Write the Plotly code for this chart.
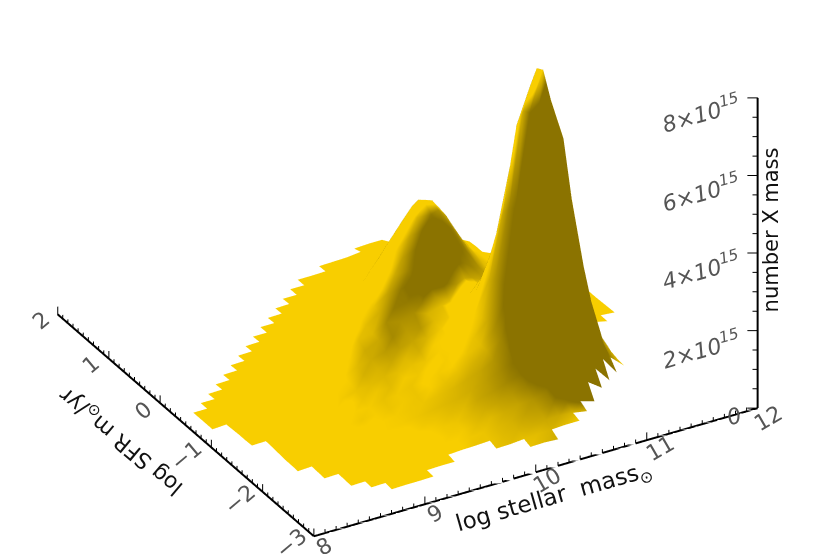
import plotly.graph_objects as go

# mass grid: 8.0 ... 12.0 in steps of 1/8, sfr rows -2.625 ... 1.625
mass_vals = [8 + i * 0.125 for i in range(33)]
sfr_vals = [-2.625 + j * 0.125 for j in range(35)]

# first mass column of every sfr row (everything left of it is empty)
row_start = [7, 6, 5, 5, 4, 4, 3, 3, 3, 3, 3, 2, 2, 2, 2, 1, 1, 1, 1, 2, 3, 4, 5, 6, 7, 8, 9, 10, 11, 12, 13, 14, 15, 17, 20]

# surface height, in units of 1e13
z_rows = [
    [6, 7, 7, 8, None, None, None, None, None, None, 12, 13, 11],
    [7, 8, 9, 9, 10, 11, 11, None, None, 14, 15, 18, 21, 22, 24, 24],
    [7, 8, 10, 10, 12, 12, 14, 15, 17, 18, 20, 23, 26, 29, 32, 33, 30, 24],
    [8, 9, 11, 12, 14, 16, 17, 20, 21, 25, 26, 32, 35, 42, 44, 48, 42, 35, 25],
    [8, 9, 10, 12, 15, 16, 19, 21, 25, 26, 31, 32, 40, 44, 54, 56, 66, 70, 74, 60, 35],
    [9, 10, 11, 14, 16, 20, 21, 26, 28, 33, 35, 42, 47, 56, 64, 73, 83, 101, 118, 118, 70, 30],
    [8, 10, 11, 13, 16, 19, 22, 25, 29, 34, 38, 43, 48, 59, 67, 80, 90, 111, 142, 184, 196, 140, 70, 25],
    [9, 12, 13, 16, 19, 23, 27, 30, 34, 40, 45, 51, 56, 69, 80, 96, 109, 142, 202, 278, 306, 245, 130, 50, 18],
    [9, 13, 15, 18, 22, 26, 30, 35, 39, 46, 52, 59, 65, 78, 90, 109, 127, 175, 271, 391, 446, 356, 200, 70, 20],
    [11, 15, 17, 21, 26, 31, 36, 40, 44, 52, 57, 65, 71, 86, 99, 121, 140, 210, 347, 526, 599, 478, 265, 90, 25],
    [13, 16, 20, 23, 30, 34, 43, 43, 53, 55, 66, 67, 78, 88, 106, 122, 152, 233, 406, 632, 712, 592, 320, 105, 27],
    [13, 14, 16, 20, 24, 32, 37, 46, 49, 59, 61, 72, 71, 82, 90, 108, 126, 160, 247, 425, 665, 765, 615, 350, 115, 30],
    [12, 14, 17, 20, 27, 33, 44, 48, 58, 62, 73, 74, 82, 81, 98, 104, 130, 152, 241, 415, 655, 755, 605, 345, 115, 30],
    [12, 13, 15, 21, 25, 36, 42, 56, 61, 74, 78, 87, 85, 94, 97, 112, 124, 151, 223, 386, 604, 697, 555, 309, 110, 35, 18],
    [11, 12, 14, 20, 24, 35, 43, 58, 64, 82, 88, 99, 96, 105, 103, 115, 119, 143, 194, 320, 486, 556, 442, 250, 100, 40, 20, 12],
    [8, 10, 11, 13, 18, 21, 33, 41, 58, 66, 88, 97, 114, 111, 118, 114, 124, 121, 134, 167, 249, 358, 403, 320, 184, 85, 38, 22, 13, 10],
    [8, 10, 10, 12, 15, 21, 28, 40, 50, 70, 82, 111, 116, 135, 127, 139, 127, 137, 126, 146, 186, 246, 267, 212, 125, 61, 31, 19, 12, 9],
    [8, 8, 9, 11, 13, 18, 22, 35, 43, 65, 80, 111, 123, 148, 146, 154, 139, 145, 125, 135, 145, 166, 169, 133, 82, 44, 25, 15, 11, 8],
    [8, 8, 9, 10, 12, 14, 21, 26, 41, 52, 79, 100, 131, 147, 170, 172, 179, 163, 155, 143, 130, 120, 110, 83, 53, 31, 18, 13, 10, 7],
    [8, 8, 8, 9, 12, 16, 23, 30, 46, 62, 94, 116, 154, 169, 194, 194, 204, 182, 168, 134, 104, 81, 57, 37, 23, 14, 11, 8, 7],
    [7, 8, 8, 10, 13, 17, 24, 35, 52, 75, 104, 139, 167, 193, 212, 226, 220, 200, 159, 111, 74, 45, 29, 18, 13, 10, 7],
    [7, 8, 9, 10, 14, 18, 26, 39, 59, 85, 121, 154, 185, 218, 244, 249, 236, 191, 133, 83, 46, 26, 17, 12, 8, 7],
    [7, 8, 9, 11, 14, 20, 28, 44, 64, 97, 130, 168, 208, 244, 268, 266, 224, 161, 98, 53, 27, 15, 11, 8, 7],
    [7, 8, 9, 10, 14, 20, 32, 47, 73, 103, 137, 183, 226, 265, 283, 253, 195, 127, 71, 36, 19, 11, 9],
    [7, 8, 8, 9, 14, 20, 31, 50, 74, 105, 148, 195, 240, 275, 263, 214, 148, 86, 43, 22, 13, 9],
    [7, 8, 8, 9, 13, 18, 31, 48, 72, 108, 151, 197, 244, 250, 218, 160, 98, 52, 28, 14, 10],
    [7, 7, 8, 9, 13, 20, 31, 47, 74, 110, 154, 203, 220, 207, 162, 106, 59, 32, 18],
    [7, 7, 8, 9, 14, 20, 30, 49, 75, 110, 155, 179, 181, 150, 105, 62, 36, 20],
    [6, 7, 7, 8, 11, 18, 30, 48, 72, 109, 134, 145, 127, 96, 59, 36],
    [6, 7, 7, 8, 9, 18, 28, 45, 72, 94, 107, 101, 81, 53, 34],
    [6, 6, 7, 8, 10, 18, 28, 44, 61, 73, 73, 63, 44],
    [6, 6, 7, 7, 9, 16, 27, 36, 46, 49, 46, 35],
    [6, 6, 7, 8, 12, 18, 22, 27, 33, 33],
    [6, 7, 8, 12, 15, 18, 20],
    [6, 8, 8],
]

x_major = [8, 9, 10, 11, 12]
y_major = [-3, -2, -1, 0, 1, 2]
z_major = [0, 2, 4, 6, 8]  # units of 1e15, the labels carry the exponent
x_minor = [8 + i * 0.1 for i in range(41)]
y_minor = [-3 + i * 0.1 for i in range(51)]
z_minor = [i * 0.5 for i in range(17)]

x_labels = ["8", "9", "10", "11", "12"]
y_labels = ["\u22123", "\u22122", "\u22121", "0", "1", "2"]
z_labels = ["0", "2\u00d710<sup>15</sup>", "4\u00d710<sup>15</sup>", "6\u00d710<sup>15</sup>", "8\u00d710<sup>15</sup>"]

# vertices only where the surface exists, surface trace gets dark rims at gaps
vert = {}
vx, vy, vz = [], [], []
for r, (start, vals) in enumerate(zip(row_start, z_rows)):
    for c, v in enumerate(vals):
        if v is not None:
            vert[(r, start + c)] = len(vx)
            vx.append(mass_vals[start + c])
            vy.append(sfr_vals[r])
            vz.append(v * 0.01)

ti, tj, tk = [], [], []
for (r, c), a in vert.items():
    b, d, e = vert.get((r, c + 1)), vert.get((r + 1, c)), vert.get((r + 1, c + 1))
    if b is None or d is None or e is None:
        continue
    ti += [a, a]
    tj += [b, e]
    tk += [e, d]

fig = go.Figure()
fig.add_trace(go.Mesh3d(
    x=vx, y=vy, z=vz, i=ti, j=tj, k=tk,
    color="#F8CE00", flatshading=False, hoverinfo="skip",
    lighting=dict(ambient=0.56, diffuse=1.0, specular=0.8, roughness=0.25, fresnel=0.1),
    lightposition=dict(x=-550, y=2000, z=1.4),
))

# axes with ticks, plotly has no minor ticks on a scene
def tick_lines(values, major, point, step):
    xs, ys, zs = [], [], []
    for v in values:
        size = 2 if any(abs(v - m) < 1e-6 for m in major) else 1
        p = point(v)
        xs += [p[0], p[0] + step[0] * size, None]
        ys += [p[1], p[1] + step[1] * size, None]
        zs += [p[2], p[2] + step[2] * size, None]
    return xs, ys, zs

up = (0, 0, 0.1)
left = (-0.035, 0.025, 0)
for values, major, point, step in [
    (x_minor, x_major, lambda v: (v, -3, 0), up),
    (y_minor, y_major, lambda v: (8, v, 0), up),
    (z_minor, z_major, lambda v: (12, -3, v), left),
]:
    xs, ys, zs = tick_lines(values, major, point, step)
    fig.add_trace(go.Scatter3d(x=xs, y=ys, z=zs, mode="lines", showlegend=False,
                               line=dict(color="black", width=2), hoverinfo="skip"))

# there and back, the start of a thick line trace was getting lost
x_path = x_minor + x_minor[::-1]
y_path = y_minor + y_minor[::-1]
z_path = z_minor + z_minor[::-1]
for ax_x, ax_y, ax_z in [
    (x_path, [-3] * len(x_path), [0] * len(x_path)),
    ([8] * len(y_path), y_path, [0] * len(y_path)),
    ([12] * len(z_path), [-3] * len(z_path), z_path),
]:
    fig.add_trace(go.Scatter3d(x=ax_x, y=ax_y, z=ax_z, mode="lines", showlegend=False,
                               hoverinfo="skip", line=dict(color="black", width=4)))

label_font = dict(family="DejaVu Sans ExtraLight, DejaVu Sans", size=22, color="#555555")
title_font = dict(family="DejaVu Sans ExtraLight, DejaVu Sans", size=22, color="#111111")
notes = []
x_shift = [(10, -10), (10, -9), (11, -8), (13, -8), (10, -10)]
y_shift = [(-23, -7), (-23, -8), (-25, -8), (-17, -7), (-18, -6), (-17, -6)]
z_shift = [(-24, -8), (-57, -18), (-57, -17), (-57, -17), (-57, -15)]
for v, t, s in zip(x_major, x_labels, x_shift):
    notes.append(dict(x=v, y=-3, z=0, text=t, textangle=-30, font=label_font, showarrow=False, xshift=s[0], yshift=s[1]))
for v, t, s in zip(y_major, y_labels, y_shift):
    notes.append(dict(x=8, y=v, z=0, text=t, textangle=-40, font=label_font, showarrow=False, xshift=s[0], yshift=s[1]))
for v, t, s in zip(z_major, z_labels, z_shift):
    notes.append(dict(x=12, y=-3, z=v, text="<i>" + t + "</i>", textangle=-16, font=label_font, showarrow=False, xshift=s[0], yshift=s[1]))
notes.append(dict(x=10.1, y=-3, z=0, text="log stellar\u00a0 mass<sub>\u2299</sub>", textangle=-16, font=dict(title_font, size=23), showarrow=False, xshift=7, yshift=-29))
notes.append(dict(x=8, y=-0.5, z=0, text="log SFR m<sub>\u2299</sub>/yr", textangle=-140, font=title_font, showarrow=False, xshift=-64, yshift=-15))
notes.append(dict(x=12, y=-3, z=4.6, text="number X mass", textangle=-90, font=dict(title_font, size=21), showarrow=False, xshift=13, yshift=0))

view_dir = (-0.433, -0.75, 0.5)
view_dist = 2.0
view_center = (-0.033, -0.14, -0.238)
box_scale = 1.877

hidden = dict(visible=False, showbackground=False, showgrid=False, zeroline=False, showspikes=False)
fig.update_layout(
    width=822, height=546,
    margin=dict(l=0, r=0, t=0, b=0),
    paper_bgcolor="white",
    showlegend=False,
    scene=dict(
        xaxis=dict(range=[8, 12], **hidden),
        yaxis=dict(range=[-3, 2], **hidden),
        zaxis=dict(range=[0, 8.01], **hidden),
        aspectmode="manual",
        aspectratio=dict(x=box_scale, y=box_scale, z=0.7 * box_scale),
        camera=dict(
            projection=dict(type="orthographic"),
            eye=dict(x=view_center[0] + view_dist * view_dir[0],
                     y=view_center[1] + view_dist * view_dir[1],
                     z=view_center[2] + view_dist * view_dir[2]),
            up=dict(x=0, y=0, z=1),
            center=dict(x=view_center[0], y=view_center[1], z=view_center[2]),
        ),
        annotations=notes,
    ),
)
fig.write_html("out.html")
